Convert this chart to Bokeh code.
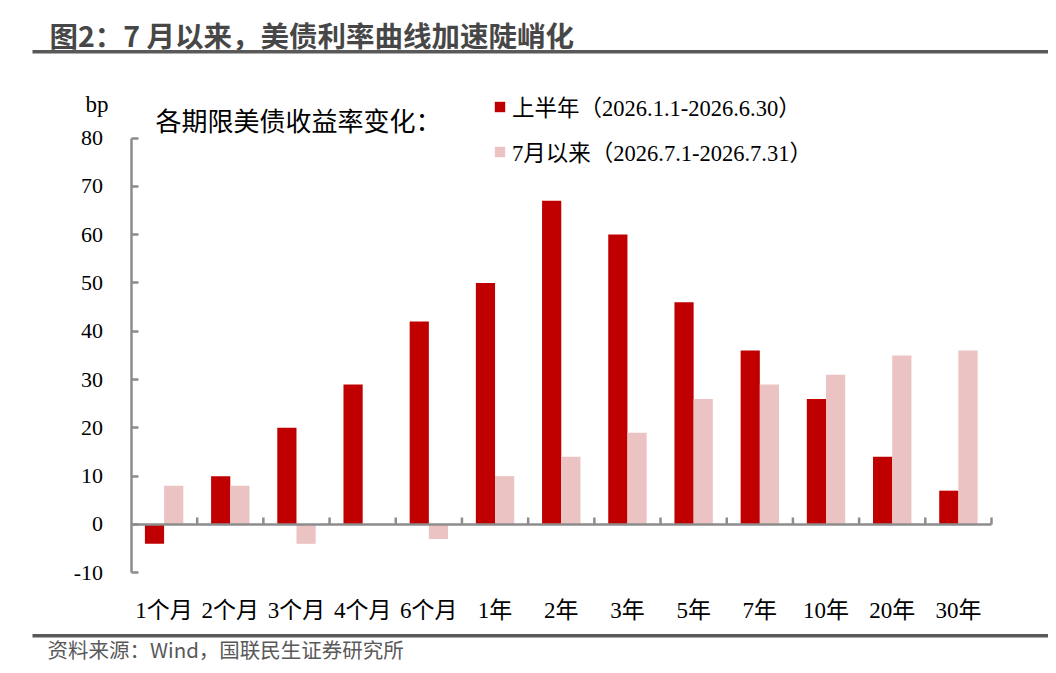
from bokeh.plotting import figure
from bokeh.models import (Range1d, Label, BoxAnnotation, Legend, LegendItem,
                          ColumnDataSource, FixedTicker)
from bokeh.embed import file_html
from bokeh.resources import INLINE

# ---- data ----
categories = ["1个月", "2个月", "3个月", "4个月", "6个月", "1年", "2年", "3年",
              "5年", "7年", "10年", "20年", "30年"]
h1_2026 = [-4, 10, 20, 29, 42, 50, 67, 60, 46, 36, 26, 14, 7]
since_july = [8, 8, -4, 0, -3, 10, 14, 19, 26, 29, 31, 35, 36]
y_ticks = [-10, 0, 10, 20, 30, 40, 50, 60, 70, 80]
series_names = ["上半年（2026.1.1-2026.6.30）", "7月以来（2026.7.1-2026.7.31）"]

title_text = "图2：7 月以来，美债利率曲线加速陡峭化"
source_text = "资料来源：Wind，国联民生证券研究所"
legend_heading = "各期限美债收益率变化："
unit_text = "bp"

RED = "#C00000"
PINK = "#EBC3C3"
AXIS = "#8C8C8C"
DARK = "#595959"
SERIF = "Liberation Serif, Noto Sans CJK SC"
SANS = "Noto Sans CJK SC"

W, H = 1048, 665
AL, AR, AT, AB = 130.5, 991, 137.5, 572.3  # y-axis x, right end, 80 level, -10 level (canvas px)

n = len(categories)
ymin, ymax = y_ticks[0], y_ticks[-1]
pxc = (AR - AL) / n
pxu = (AB - AT) / (ymax - ymin)
x_range = Range1d(-AL / pxc, n + (W - AR) / pxc)
y_range = Range1d(ymin - (H - AB) / pxu, ymax + AT / pxu)

centers = [i + 0.5 for i in range(n)]
bw = 0.29
src = ColumnDataSource(dict(xa=[c - bw / 2 for c in centers], xb=[c + bw / 2 for c in centers],
                            a=h1_2026, b=since_july))

p = figure(width=W, height=H, x_range=x_range, y_range=y_range,
           output_backend="svg", toolbar_location=None,
           min_border_left=0, min_border_right=0, min_border_top=0, min_border_bottom=0)
p.outline_line_color = None
p.xgrid.grid_line_color = None
p.ygrid.grid_line_color = None
p.background_fill_color = "white"
p.border_fill_color = "white"

r1 = p.vbar(x="xa", top="a", bottom=0, width=bw, source=src, fill_color=RED, line_color=None)
r2 = p.vbar(x="xb", top="b", bottom=0, width=bw, source=src, fill_color=PINK, line_color=None)

# y axis, fixed at the left end of the category span
ya = p.yaxis[0]
ya.fixed_location = 0
ya.bounds = (ymin, ymax)
ya.ticker = FixedTicker(ticks=y_ticks)
ya.major_label_overrides = {t: str(t) for t in y_ticks}
ya.axis_line_color = AXIS
ya.axis_line_width = 2.5
ya.major_tick_line_color = AXIS
ya.major_tick_line_width = 2.5
ya.major_tick_in = 7
ya.major_tick_out = 0
ya.minor_tick_line_color = None
ya.major_label_standoff = 28
ya.major_label_text_font = SERIF
ya.major_label_text_font_size = "22px"
ya.major_label_text_color = "black"

# x axis: labels only, fixed at the bottom of the value span
xa = p.xaxis[0]
xa.fixed_location = ymin
xa.ticker = FixedTicker(ticks=centers)
xa.major_label_overrides = {c: name for c, name in zip(centers, categories)}
xa.axis_line_color = None
xa.major_tick_line_color = None
xa.minor_tick_line_color = None
xa.major_label_standoff = 19
xa.major_label_text_font = SERIF
xa.major_label_text_font_size = "23px"
xa.major_label_text_color = "black"

# zero line with ticks between categories
tick_len = 7 / pxu
p.segment(x0=[0], y0=[0], x1=[n], y1=[0], line_color=AXIS, line_width=2.5)
bounds = list(range(1, n + 1))
p.segment(x0=bounds, y0=[0] * n, x1=bounds, y1=[tick_len] * n,
          line_color=AXIS, line_width=2.5)


def fy(cy):
    return H - cy


def box(l, r, t, b, color):
    return BoxAnnotation(left=l, right=r, top=fy(t), bottom=fy(b),
                         left_units="screen", right_units="screen",
                         top_units="screen", bottom_units="screen",
                         fill_color=color, fill_alpha=1, line_color=None)


# title
p.add_layout(Label(x=49, y=fy(33.5), x_units="screen", y_units="screen", text=title_text,
                   text_font=SANS, text_font_style="bold", text_font_size="28.5px",
                   text_color="#474747", text_baseline="middle", text_align="left"))
# header and footer rules
p.add_layout(box(32, W, 49.5, 53, DARK))
p.add_layout(box(32, W, 633.5, 637, DARK))
# source
p.add_layout(Label(x=47, y=fy(648), x_units="screen", y_units="screen", text=source_text,
                   text_font=SANS, text_font_size="20.5px", text_color=DARK,
                   text_baseline="middle", text_align="left"))
# unit
p.add_layout(Label(x=85, y=fy(104), x_units="screen", y_units="screen", text=unit_text,
                   text_font=SERIF, text_font_size="23px", text_color="black",
                   text_baseline="middle", text_align="left"))
# legend heading
p.add_layout(Label(x=155, y=fy(118.5), x_units="screen", y_units="screen", text=legend_heading,
                   text_font=SANS, text_font_size="26px", text_color="black",
                   text_baseline="middle", text_align="left"))

legend = Legend(items=[LegendItem(label=series_names[0], renderers=[r1]),
                       LegendItem(label=series_names[1], renderers=[r2])],
                location=(493, fy(167)), orientation="vertical",
                padding=0, margin=0, spacing=13, glyph_width=13, glyph_height=13,
                label_height=24, label_standoff=6,
                label_text_font=SERIF, label_text_font_size="22.5px",
                label_text_color="black",
                border_line_color=None, background_fill_alpha=0)
p.add_layout(legend, "center")

open("out.html", "w").write(file_html(p, INLINE))
